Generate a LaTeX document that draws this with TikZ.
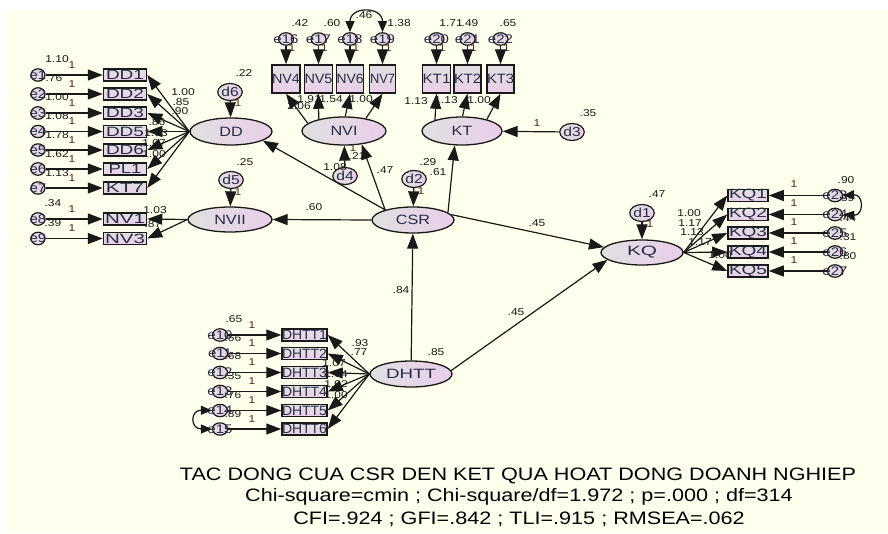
\documentclass[tikz,border=0pt]{standalone}
\usepackage{fontspec}
\setmainfont{Liberation Sans}[FakeStretch=1.2]
\usepackage{graphicx}
\usetikzlibrary{arrows.meta,shapes.geometric}

\definecolor{paper}{RGB}{255,255,238}
\definecolor{fillL}{RGB}{224,224,224}
\definecolor{fillR}{RGB}{234,206,234}
\definecolor{ink}{RGB}{25,25,25}
\definecolor{nameink}{RGB}{40,44,70}
\definecolor{wink}{RGB}{80,40,20}

% stretch a label to a given width, keeping its height
\newcommand{\fitto}[2]{\resizebox{#1}{\height}{#2}}
% a label that does not widen its circle
\newcommand{\errtag}[1]{\makebox[0pt]{#1}}

\begin{document}
\begin{tikzpicture}[x=1pt,y=-1pt,
  lat/.style={ellipse, draw=ink, line width=1.3pt, left color=fillL, right color=fillR,
    inner sep=0pt, text=nameink, font=\fontsize{13.5}{14}\selectfont},
  obs/.style={rectangle, draw=ink, line width=1.5pt, top color=fillL, bottom color=fillR,
    inner sep=0pt, text=nameink, font=\fontsize{13.5}{14}\selectfont},
  hbox/.style={obs, minimum width=43pt, minimum height=12pt},
  vbox/.style={obs, minimum width=26pt, minimum height=28pt},
  err/.style={ellipse, draw=ink, line width=1.2pt, left color=fillL, right color=fillR,
    inner sep=0pt, minimum width=14pt, minimum height=12pt, text=nameink,
    font=\fontsize{12.5}{12}\selectfont},
  dis/.style={ellipse, draw=ink, line width=1.2pt, left color=fillL, right color=fillR,
    inner sep=0pt, minimum width=21pt, minimum height=17pt, text=nameink,
    font=\fontsize{13}{13}\selectfont},
  num/.style={inner sep=0pt, text=ink, font=\fontsize{10}{10}\selectfont},
  wt/.style={num, text=wink},
  arr/.style={draw=ink, line width=1.2pt, -{Triangle[length=15pt,width=11pt]}},
  cov/.style={draw=ink, line width=1.2pt,
    {Triangle[length=11pt,width=9pt]}-{Triangle[length=11pt,width=9pt]}},
  caption/.style={inner sep=0pt, text=black, font=\fontsize{18}{18}\selectfont}
]

% paper
\fill[white] (0,0) rectangle (888,533);
\fill[paper] (7,11) rectangle (888,533);
\useasboundingbox (0,0) rectangle (888,533);

% ---------------- latent variables ----------------
\node[lat, minimum width=82pt, minimum height=27pt] (DD)   at (231,131.5) {DD};
\node[lat, minimum width=84pt, minimum height=25pt] (NVII) at (230,219.5) {NVII};
\node[lat, minimum width=84pt, minimum height=28pt] (NVI)  at (344,131)   {NVI};
\node[lat, minimum width=80pt, minimum height=28pt] (KT)   at (462,131)   {KT};
\node[lat, minimum width=82pt, minimum height=26pt] (CSR)  at (413,220)   {CSR};
\node[lat, minimum width=82pt, minimum height=26pt] (DHTT) at (411,374)   {\fitto{50pt}{DHTT}};
\node[lat, minimum width=82pt, minimum height=25pt] (KQ)   at (642,252.5) {\fitto{30pt}{KQ}};

% disturbances
\node[dis] (d6) at (230,92)  {d6};
\node[dis] (d5) at (231,180) {d5};
\node[dis] (d4) at (345,176) {d4};
\node[dis] (d2) at (414,179) {d2};
\node[dis] (d3) at (572,132) {d3};
\node[dis] (d1) at (642,213) {d1};

% ---------------- DD indicators ----------------
\node[hbox] (DD1) at (125,75)    {\fitto{38pt}{DD1}};
\node[hbox] (DD2) at (125,94)    {\fitto{38pt}{DD2}};
\node[hbox] (DD3) at (125,113)   {\fitto{38pt}{DD3}};
\node[hbox] (DD5) at (125,131.5) {\fitto{38pt}{DD5}};
\node[hbox] (DD6) at (125,150)   {\fitto{38pt}{DD6}};
\node[hbox] (PL1) at (125,169)   {\fitto{33pt}{PL1}};
\node[hbox] (KT7) at (125,188)   {\fitto{38pt}{KT7}};
\node[hbox] (NV1) at (125,219)   {\fitto{40pt}{NV1}};
\node[hbox] (NV3) at (125,238.5) {\fitto{40pt}{NV3}};

\node[err] (e1) at (38,75)    {\errtag{e1}};
\node[err] (e2) at (38,94)    {\errtag{e2}};
\node[err] (e3) at (38,113)   {\errtag{e3}};
\node[err] (e4) at (38,131.5) {\errtag{e4}};
\node[err] (e5) at (38,150)   {\errtag{e5}};
\node[err] (e6) at (38,169)   {\errtag{e6}};
\node[err] (e7) at (38,188)   {\errtag{e7}};
\node[err] (e8) at (38,219)   {\errtag{e8}};
\node[err] (e9) at (38,238.5) {\errtag{e9}};

% ---------------- NVI and KT indicators ----------------
\node[vbox] (NV4) at (286,79)   {\fitto{28pt}{NV4}};
\node[vbox] (NV5) at (318.5,79) {\fitto{28pt}{NV5}};
\node[vbox] (NV6) at (350,79)   {\fitto{27pt}{NV6}};
\node[vbox] (NV7) at (382.5,79) {\fitto{25pt}{NV7}};
\node[vbox] (KT1) at (436.5,79) {\fitto{28pt}{KT1}};
\node[vbox] (KT2) at (467.5,79) {\fitto{27pt}{KT2}};
\node[vbox] (KT3) at (500.5,79) {\fitto{27pt}{KT3}};

\node[err, minimum width=15pt] (e16) at (286,39)   {\errtag{e16}};
\node[err, minimum width=15pt] (e17) at (318.5,39) {\errtag{e17}};
\node[err, minimum width=15pt] (e18) at (350,39)   {\errtag{e18}};
\node[err, minimum width=15pt] (e19) at (382.5,39) {\errtag{e19}};
\node[err, minimum width=15pt] (e20) at (436.5,39) {\errtag{e20}};
\node[err, minimum width=15pt] (e21) at (467.5,39) {\errtag{e21}};
\node[err, minimum width=15pt] (e22) at (500.5,39) {\errtag{e22}};

% ---------------- KQ indicators ----------------
\node[obs, minimum width=40pt, minimum height=12pt] (KQ1) at (748,195.5) {\fitto{38pt}{KQ1}};
\node[obs, minimum width=40pt, minimum height=12pt] (KQ2) at (748,214.5) {\fitto{38pt}{KQ2}};
\node[obs, minimum width=40pt, minimum height=12pt] (KQ3) at (748,233)   {\fitto{38pt}{KQ3}};
\node[obs, minimum width=40pt, minimum height=12pt] (KQ4) at (748,252)   {\fitto{38pt}{KQ4}};
\node[obs, minimum width=40pt, minimum height=12pt] (KQ5) at (748,271)   {\fitto{38pt}{KQ5}};

\node[err, minimum width=15pt] (e23) at (835,195.5) {\errtag{e23}};
\node[err, minimum width=15pt] (e24) at (835,214.5) {\errtag{e24}};
\node[err, minimum width=15pt] (e25) at (835,233)   {\errtag{e25}};
\node[err, minimum width=15pt] (e26) at (835,252)   {\errtag{e26}};
\node[err, minimum width=15pt] (e27) at (835,271)   {\errtag{e27}};

% ---------------- DHTT indicators ----------------
\node[obs, minimum width=45pt, minimum height=12pt] (DHTT1) at (304.5,335)   {\fitto{45pt}{DHTT1}};
\node[obs, minimum width=45pt, minimum height=12pt] (DHTT2) at (304.5,353.5) {\fitto{45pt}{DHTT2}};
\node[obs, minimum width=45pt, minimum height=12pt] (DHTT3) at (304.5,372.5) {\fitto{45pt}{DHTT3}};
\node[obs, minimum width=45pt, minimum height=12pt] (DHTT4) at (304.5,391.5) {\fitto{45pt}{DHTT4}};
\node[obs, minimum width=45pt, minimum height=12pt] (DHTT5) at (304.5,410.5) {\fitto{45pt}{DHTT5}};
\node[obs, minimum width=45pt, minimum height=12pt] (DHTT6) at (304.5,429)   {\fitto{45pt}{DHTT6}};

\node[err, minimum width=15pt] (e10) at (220,335)   {\errtag{e10}};
\node[err, minimum width=15pt] (e11) at (220,353.5) {\errtag{e11}};
\node[err, minimum width=15pt] (e12) at (220,372.5) {\errtag{e12}};
\node[err, minimum width=15pt] (e13) at (220,391.5) {\errtag{e13}};
\node[err, minimum width=15pt] (e14) at (220,410.5) {\errtag{e14}};
\node[err, minimum width=15pt] (e15) at (220,429)   {\errtag{e15}};

% ---------------- estimates ----------------
% error variances, left column
\node[num] (v1) at (57,59)  {1.10};
\node[num] (v2) at (54,78)  {.76};
\node[num] (v3) at (57,97)  {1.00};
\node[num] (v4) at (57,116) {1.08};
\node[num] (v5) at (57,135) {1.78};
\node[num] (v6) at (57,154) {1.62};
\node[num] (v7) at (57,173) {1.13};
\node[num] (v8) at (53,203) {.34};
\node[num] (v9) at (53,223) {.39};
\foreach \y [count=\i] in {65,84,103,121,140,159,178,209,228}
  \node[wt] (w\i) at (72,\y) {1};

% DD and NVII loadings
\node[num] (lDD1) at (183,92)  {1.00};
\node[num] (lDD2) at (181,102) {.85};
\node[num] (lDD3) at (180,111) {.90};
\node[num] (lDD5) at (157,122) {.86};
\node[num] (lDD6) at (156,133) {1.03};
\node[num] (lPL1) at (154,143) {1.07};
\node[num] (lKT7) at (154,154) {1.00};
\node[num] (lNV1) at (155,210) {1.03};
\node[num] (lNV3) at (153,224) {.87};

% disturbance variances and weights
\node[num] (vd6) at (244,73)  {.22};
\node[wt]  (wd6) at (238,103) {1};
\node[num] (vd5) at (245,162) {.25};
\node[wt]  (wd5) at (238,192) {1};
\node[num] (vd4) at (335,167) {1.08};
\node[wt]  (wd4) at (353,148) {1};
\node[num] (lq4) at (357,156) {.21};
\node[num] (vd2) at (428,162) {.29};
\node[wt]  (wd2) at (421,191) {1};
\node[num] (vd3) at (588,113) {.35};
\node[wt]  (wd3) at (537,123) {1};
\node[num] (vd1) at (657,194) {.47};
\node[wt]  (wd1) at (650,224) {1};
\node[num] (vDH) at (436,352) {.85};

% top error variances and weights
\node[num] (v16) at (300,23) {.42};
\node[num] (v17) at (332,23) {.60};
\node[num] (c1819) at (364,15) {.46};
\node[num] (v19) at (399,23) {1.38};
\node[num] (v20) at (451,23) {1.71};
\node[num] (v21) at (470,23) {.49};
\node[num] (v22) at (508,23) {.65};
\foreach \x [count=\i from 16] in {292,324.5,356,388.5,442.5,473.5,506.5}
  \node[wt] (w\i) at (\x,48) {1};

% NVI and KT loadings
\node[num] (lNV4) at (299,106) {2.06};
\node[num] (lNV5) at (309,99)  {1.91};
\node[num] (lNV6) at (331,99)  {1.54};
\node[num] (lNV7) at (361,99)  {1.00};
\node[num] (lKT1) at (416,101) {1.13};
\node[num] (lKT2) at (446,100) {1.13};
\node[num] (lKT3) at (479,100) {1.00};

% structural paths
\node[num] (pNVII) at (314,207) {.60};
\node[num] (pNVI)  at (385,170) {.47};
\node[num] (pKT)   at (438,172) {.61};
\node[num] (pCSR)  at (401,290) {.84};
\node[num] (pKQa)  at (537,223) {.45};
\node[num] (pKQb)  at (516,312) {.45};

% KQ loadings, variances and weights
\node[num] (lKQ1) at (689,213) {1.00};
\node[num] (lKQ2) at (690,223) {1.17};
\node[num] (lKQ3) at (692,232) {1.13};
\node[num] (lKQ4) at (700,242) {1.17};
\node[num] (lKQ5) at (720,255) {1.00};
\node[num] (v23) at (846,180) {.90};
\node[num] (v24) at (846,198) {.59};
\node[num] (v25) at (848,218) {.44};
\node[num] (v26) at (848,237) {.31};
\node[num] (v27) at (848,256) {.80};
\foreach \y [count=\i from 23] in {184.5,203.5,222,241,260}
  \node[wt] (w\i) at (794,\y) {1};

% DHTT loadings, variances and weights
\node[num] (lDH1) at (360,343) {.93};
\node[num] (lDH2) at (359,352) {.77};
\node[num] (lDH3) at (334,363) {1.07};
\node[num] (lDH4) at (336,374) {1.04};
\node[num] (lDH5) at (336,384) {1.02};
\node[num] (lDH6) at (336,395) {1.00};
\node[num] (v10) at (234,319) {.65};
\node[num] (v11) at (233,338) {.56};
\node[num] (v12) at (233,356) {.68};
\node[num] (v13) at (233,376) {.35};
\node[num] (v14) at (233,395) {.76};
\node[num] (v15) at (233,414) {.89};
\foreach \y [count=\i from 10] in {325,343.5,362.5,381.5,400.5,419}
  \node[wt] (w\i) at (252,\y) {1};

% ---------------- paths ----------------
\foreach \i/\b in {1/DD1,2/DD2,3/DD3,4/DD5,5/DD6,6/PL1,7/KT7,8/NV1,9/NV3}
  \draw[arr] (e\i) -- (\b);
\foreach \b in {DD1,DD2,DD3,DD5,DD6,PL1,KT7}
  \draw[arr] (DD.west) -- (\b.east);
\draw[arr] (NVII.west) -- (NV1.east);
\draw[arr] (NVII.west) -- (NV3.east);

\draw[arr] (d6) -- (DD);
\draw[arr] (d5) -- (NVII);
\draw[arr] (d4) -- (NVI);
\draw[arr] (d2) -- (CSR);
\draw[arr] (d3) -- (KT);
\draw[arr] (d1) -- (KQ);

\foreach \i/\b in {16/NV4,17/NV5,18/NV6,19/NV7,20/KT1,21/KT2,22/KT3}
  \draw[arr] (e\i) -- (\b);
\draw[arr] (NVI.168) -- (NV4.south);
\draw[arr] (NVI.155) -- (NV5.south);
\draw[arr] (NVI.85)  -- (NV6.south);
\draw[arr] (NVI.30)  -- (NV7.south);
\draw[arr] (KT.158) -- (KT1.south);
\draw[arr] (KT.88)  -- (KT2.south);
\draw[arr] (KT.25)  -- (KT3.south);

\draw[arr] (CSR.160) -- (DD.-16);
\draw[arr] (CSR.160) -- (NVI.-37);
\draw[arr] (CSR.12)  -- (KT.-117);
\draw[arr] (CSR.west) -- (NVII.east);
\draw[arr] (CSR.8) -- (KQ.172);
\draw[arr] (DHTT) -- (CSR);
\draw[arr] (DHTT.5) -- (KQ.-168);

\foreach \b in {KQ1,KQ2,KQ3,KQ4,KQ5}
  \draw[arr] (KQ.east) -- (\b.west);
\foreach \i/\b in {23/KQ1,24/KQ2,25/KQ3,26/KQ4,27/KQ5}
  \draw[arr] (e\i) -- (\b);

\foreach \b in {DHTT1,DHTT2,DHTT3,DHTT4,DHTT5,DHTT6}
  \draw[arr] (DHTT.west) -- (\b.east);
\foreach \i/\b in {10/DHTT1,11/DHTT2,12/DHTT3,13/DHTT4,14/DHTT5,15/DHTT6}
  \draw[arr] (e\i) -- (\b);

% covariances
\draw[cov] (e18.north) .. controls (350,6) and (382.5,6) .. (e19.north);
\draw[cov] (e23.east) .. controls (864,194) and (864,216) .. (e24.east);
\draw[cov] (e14.west) .. controls (190,410) and (190,429) .. (e15.west);

% ---------------- caption ----------------
\node[caption] (t1) at (518,476) {TAC DONG CUA CSR DEN KET QUA HOAT DONG DOANH NGHIEP};
\node[caption] (t2) at (519,497) {Chi-square=cmin ; Chi-square/df=1.972 ; p=.000 ; df=314};
\node[caption] (t3) at (519,519) {CFI=.924 ; GFI=.842 ; TLI=.915 ; RMSEA=.062};
\end{tikzpicture}
\end{document}
